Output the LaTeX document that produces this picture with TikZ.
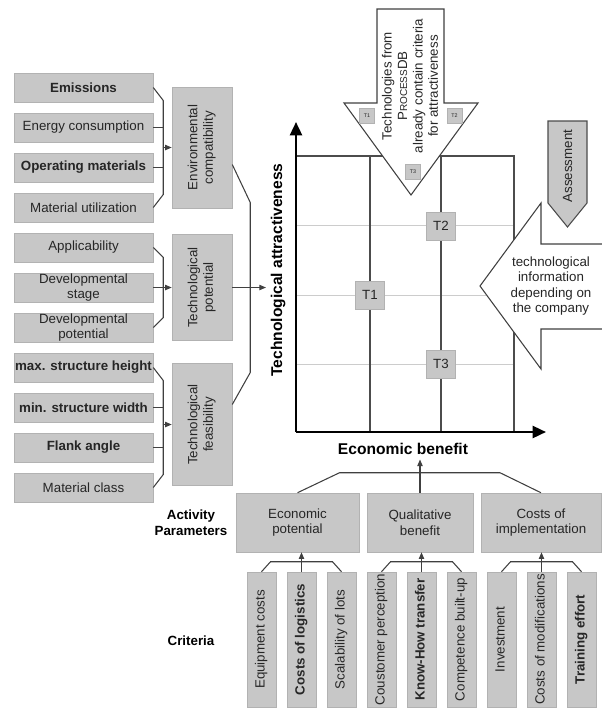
\documentclass[tikz,border=0pt]{standalone}
\usepackage{fontspec}
\setmainfont{Liberation Sans}
\usepackage{graphicx}
\usetikzlibrary{arrows.meta,calc,positioning}

\newcommand{\px}{0.75pt}
\newcommand{\vtxt}[1]{\rotatebox{90}{\begin{tabular}{@{}c@{}}#1\end{tabular}}}

\begin{document}
\begin{tikzpicture}[
    x=0.75pt, y=-0.75pt,
    font=\fontsize{10}{11.6}\selectfont,
    text=black!85,
    >={Triangle[length=5pt,width=4pt]},
    box/.style={draw=black!30, fill=black!22, inner sep=0pt, align=center},
    lbox/.style={box, minimum width=139*\px, minimum height=29*\px},
    mbox/.style={box, minimum width=60*\px},
    pbox/.style={box, minimum height=59*\px},
    cbox/.style={box, minimum width=29*\px, minimum height=135*\px},
    tbox/.style={box, minimum width=29*\px, minimum height=28*\px},
    sbox/.style={box, minimum size=15*\px, font=\fontsize{4}{4}\selectfont},
    link/.style={black!75, line width=0.8pt},
    axis/.style={black, line width=1.8pt, -{Triangle[length=10pt,width=9pt]}},
    bigarrow/.style={draw=black!75, line width=0.8pt, fill=white},
    heading/.style={font=\fontsize{11.7}{14}\selectfont\bfseries, text=black},
    sidelabel/.style={font=\bfseries, align=center, text=black}
]
    \useasboundingbox (0,0) rectangle (602,708);

    % Portfolio grid
    \coordinate (O) at (296,432);
    \draw[black!20, line width=0.6pt] (296,225) -- (514,225);
    \draw[black!20, line width=0.6pt] (296,295) -- (514,295);
    \draw[black!20, line width=0.6pt] (296,364) -- (514,364);
    \draw[black!70, line width=0.8pt] (296,156) -- (514,156) -- (514,432);
    \draw[black!70, line width=0.8pt] (370,156) -- (370,432);
    \draw[black!70, line width=0.8pt] (441,156) -- (441,432);

    % Axes
    \draw[axis] (O) -- (296,122);
    \draw[axis] (O) -- (546,432);
    \node[heading, rotate=90] (ylab) at (278,270) {Technological attractiveness};
    \node[heading] (xlab) at (403,449) {Economic benefit};

    % Technologies in the grid
    \node[tbox] (t1) at (370,295) {T1};
    \node[tbox] (t2) at (441,226) {T2};
    \node[tbox] (t3) at (441,364) {T3};

    % Input from the database
    \draw[bigarrow] (377,9) -- (444,9) -- (444,103) -- (478,103) -- (411,195) -- (344,103) -- (377,103) -- cycle;
    \node[rotate=90, align=center] (dbtxt) at (410,86) {Technologies from\\P{\fontsize{7.5}{11.6}\selectfont ROCESS}DB\\already contain criteria\\for attractiveness};
    \node[sbox] (s1) at (367,116) {T1};
    \node[sbox] (s2) at (454.5,116) {T2};
    \node[sbox] (s3) at (413,172) {T3};

    % Assessment and company information
    \draw[fill=black!22, draw=black!70, line width=0.8pt] (548,121) -- (587,121) -- (587,203) -- (567.5,227) -- (548,203) -- cycle;
    \node[rotate=90] (assess) at (567.5,166) {Assessment};
    \draw[bigarrow] (602,244) -- (541,244) -- (541,203) -- (480,286) -- (541,369) -- (541,329) -- (602,329);
    \node[align=center] (info) at (551,286) {technological\\information\\depending on\\the company};

    % Left criteria
    \node[lbox] (emis) at (83.5,87.5) {\textbf{Emissions}};
    \node[lbox] (ener) at (83.5,127.5) {Energy consumption};
    \node[lbox] (opmat) at (83.5,167.5) {\textbf{Operating materials}};
    \node[lbox] (mutil) at (83.5,207.5) {Material utilization};
    \node[lbox] (appl) at (83.5,247.5) {Applicability};
    \node[lbox] (dstage) at (83.5,287.5) {Developmental\\stage};
    \node[lbox] (dpot) at (83.5,327.5) {Developmental\\potential};
    \node[lbox] (maxh) at (83.5,367.5) {\textbf{max. structure height}};
    \node[lbox] (minw) at (83.5,407.5) {\textbf{min. structure width}};
    \node[lbox] (flank) at (83.5,447.5) {\textbf{Flank angle}};
    \node[lbox] (mclass) at (83.5,487.5) {Material class};

    % Left groups
    \node[mbox, minimum height=121*\px] (envc) at (202,147.5) {\vtxt{Environmental\\compatibility}};
    \node[mbox, minimum height=106*\px] (tpot) at (202,287.5) {\vtxt{Technological\\potential}};
    \node[mbox, minimum height=122*\px] (tfeas) at (202,424.5) {\vtxt{Technological\\feasibility}};

    % Brackets to the groups
    \draw[link] (emis.east) -- ++(10,13) -- ($(mutil.east)+(10,-13)$) -- (mutil.east);
    \draw[link] (ener.east) -- ++(10,0);
    \draw[link] (opmat.east) -- ++(10,0);
    \draw[link,->] ($(envc.west)+(-9,0)$) -- (envc.west);
    \draw[link] (appl.east) -- ++(10,10) -- ($(dpot.east)+(10,-10)$) -- (dpot.east);
    \draw[link,->] (dstage.east) -- (tpot.west);
    \draw[link] (maxh.east) -- ++(10,13) -- ($(mclass.east)+(10,-13)$) -- (mclass.east);
    \draw[link] (minw.east) -- ++(10,0);
    \draw[link] (flank.east) -- ++(10,0);
    \draw[link,->] ($(tfeas.west)+(-9,0)$) -- (tfeas.west);

    % Bracket to the attractiveness axis
    \draw[link] ($(envc.east)+(0,17)$) -- ++(18,38) -- ($(tfeas.east)+(18,-52)$) -- ($(tfeas.east)+(0,-20)$);
    \draw[link,->] (tpot.east) -- (tpot.east -| ylab.north);

    % Activity parameters
    \node[sidelabel] (actp) at (191,522.5) {Activity\\Parameters};
    \node[pbox, minimum width=123*\px] (econ) at (297.5,522.5) {Economic\\potential};
    \node[pbox, minimum width=106*\px] (qual) at (420,522.5) {Qualitative\\benefit};
    \node[pbox, minimum width=120*\px] (costs) at (541,522.5) {Costs of\\implementation};
    \draw[link] (econ.north) -- ++(42,-20) -- ($(costs.north)+(-41,-20)$) -- (costs.north);
    \draw[link,->] (qual.north) -- (qual.north |- xlab.south);

    % Bottom criteria
    \node[sidelabel] (crit) at (191,641) {Criteria};
    \node[cbox] (eqc) at (261.5,639.5) {\vtxt{Equipment costs}};
    \node[cbox] (logc) at (301.5,639.5) {\vtxt{\textbf{Costs of logistics}}};
    \node[cbox] (scal) at (341.5,639.5) {\vtxt{Scalability of lots}};
    \node[cbox] (cperc) at (381.5,639.5) {\vtxt{Coustomer perception}};
    \node[cbox] (khow) at (421.5,639.5) {\vtxt{\textbf{Know-How transfer}}};
    \node[cbox] (comp) at (461.5,639.5) {\vtxt{Competence built-up}};
    \node[cbox] (inv) at (501.5,639.5) {\vtxt{Investment}};
    \node[cbox] (modc) at (541.5,639.5) {\vtxt{Costs of modifications}};
    \node[cbox] (train) at (581.5,639.5) {\vtxt{\textbf{Training effort}}};

    % Brackets to the parameters
    \draw[link] (eqc.north) -- ++(9,-10) -- ($(scal.north)+(-9,-10)$) -- (scal.north);
    \draw[link,->] (logc.north) -- (logc.north |- econ.south);
    \draw[link] (cperc.north) -- ++(9,-10) -- ($(comp.north)+(-9,-10)$) -- (comp.north);
    \draw[link,->] (khow.north) -- (khow.north |- qual.south);
    \draw[link] (inv.north) -- ++(9,-10) -- ($(train.north)+(-9,-10)$) -- (train.north);
    \draw[link,->] (modc.north) -- (modc.north |- costs.south);
\end{tikzpicture}
\end{document}
